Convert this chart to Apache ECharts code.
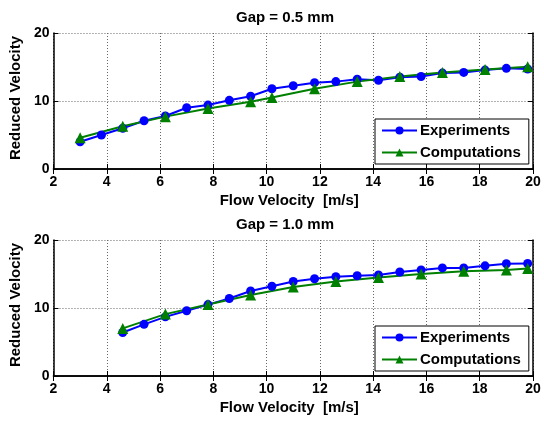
<!DOCTYPE html>
<html>
<head>
<meta charset="utf-8">
<script src="https://cdn.jsdelivr.net/npm/echarts@6/dist/echarts.min.js"></script>
<style>
    html, body { margin: 0; padding: 0; background: #fff; }
    #main { width: 544px; height: 421px; }
</style>
</head>
<body>
<div id="main"></div>
<script>
    // Gap = 0.5 mm
    const expXTop = [3.0, 3.8, 4.6, 5.4, 6.2, 7.0, 7.8, 8.6, 9.4, 10.2, 11.0, 11.8, 12.6, 13.4, 14.2, 15.0, 15.8, 16.6, 17.4, 18.2, 19.0, 19.8];
    const expYTop = [4.0, 5.0, 6.0, 7.1, 7.8, 9.0, 9.4, 10.1, 10.7, 11.8, 12.25, 12.7, 12.85, 13.2, 13.05, 13.5, 13.6, 14.1, 14.2, 14.55, 14.8, 14.7];
    const compXTop = [3.0, 4.6, 6.2, 7.8, 9.4, 10.2, 11.8, 13.4, 15.0, 16.6, 18.2, 19.8];
    const compYTop = [4.6, 6.3, 7.7, 8.9, 9.9, 10.5, 11.8, 12.85, 13.6, 14.2, 14.65, 15.05];

    // Gap = 1.0 mm
    const expXBot = [4.6, 5.4, 6.2, 7.0, 7.8, 8.6, 9.4, 10.2, 11.0, 11.8, 12.6, 13.4, 14.2, 15.0, 15.8, 16.6, 17.4, 18.2, 19.0, 19.8];
    const expYBot = [6.4, 7.6, 8.7, 9.6, 10.5, 11.4, 12.5, 13.2, 13.9, 14.3, 14.6, 14.75, 14.85, 15.3, 15.6, 15.9, 15.9, 16.2, 16.5, 16.55];
    const compXBot = [4.6, 6.2, 7.8, 9.4, 11.0, 12.6, 14.2, 15.8, 17.4, 19.0, 19.8];
    const compYBot = [7.0, 9.1, 10.5, 11.9, 13.1, 13.9, 14.5, 15.0, 15.4, 15.6, 15.8];

    const titles = ['Gap = 0.5 mm', 'Gap = 1.0 mm'];
    const xName = 'Flow Velocity  [m/s]';
    const yName = 'Reduced Velocity';
    const seriesNames = ['Experiments', 'Computations'];

    const zip = (xs, ys) => xs.map((x, i) => [x, ys[i]]);

    const font = 'Liberation Sans, Arial, sans-serif';
    const gridTops = [33, 240];
    const gridH = 136;

    const chart = echarts.init(document.getElementById('main'));

    const xAxes = [];
    const yAxes = [];
    [0, 1].forEach(g => {
        xAxes.push({
            type: 'value', gridIndex: g, min: 2, max: 20, interval: 2, position: 'bottom',
            name: xName, nameLocation: 'middle', nameGap: 24,
            nameTextStyle: { fontFamily: font, fontWeight: 'bold', fontSize: 15, color: '#000', padding: [0, 8, 0, 0] },
            axisLine: { lineStyle: { color: '#000', width: 1.5 } },
            axisTick: { inside: true, length: 5, lineStyle: { color: '#000' } },
            axisLabel: { fontFamily: font, fontWeight: 'bold', fontSize: 14, color: '#000', margin: 6, showMinLabel: true, showMaxLabel: true },
            splitLine: { show: true, lineStyle: { color: '#666', type: [1, 2], width: 1 } }
        });
        xAxes.push({
            type: 'value', gridIndex: g, min: 2, max: 20, interval: 2, position: 'top',
            axisLine: { lineStyle: { color: '#000', width: 1.5 } },
            axisTick: { inside: true, length: 5, lineStyle: { color: '#000' } },
            axisLabel: { show: false },
            splitLine: { show: false }
        });
        yAxes.push({
            type: 'value', gridIndex: g, min: 0, max: 20, interval: 10, position: 'left',
            name: yName, nameLocation: 'middle', nameGap: 26, nameRotate: 90,
            nameTextStyle: { fontFamily: font, fontWeight: 'bold', fontSize: 15, color: '#000', padding: [0, 0, 0, 6] },
            axisLine: { show: true, lineStyle: { color: '#000', width: 1.5 } },
            axisTick: { show: true, inside: true, length: 5, lineStyle: { color: '#000' } },
            axisLabel: { fontFamily: font, fontWeight: 'bold', fontSize: 14, color: '#000', margin: 4 },
            splitLine: { show: true, lineStyle: { color: '#666', type: [1, 2], width: 1 } }
        });
        yAxes.push({
            type: 'value', gridIndex: g, min: 0, max: 20, interval: 10, position: 'right',
            axisLine: { show: true, lineStyle: { color: '#000', width: 1.5 } },
            axisTick: { show: true, inside: true, length: 5, lineStyle: { color: '#000' } },
            axisLabel: { show: false },
            splitLine: { show: false }
        });
    });

    const mkSeries = (name, g, data, color, symbol, size) => ({
        name: name, type: 'line', xAxisIndex: g * 2, yAxisIndex: g * 2,
        data: data, symbol: symbol, symbolSize: size, showAllSymbol: true,
        itemStyle: { color: color }, lineStyle: { color: color, width: 2 },
        animation: false
    });

    const legendBase = {
        orient: 'vertical', left: 375, width: 150,
        data: seriesNames,
        itemWidth: 35, itemHeight: 10, itemGap: 7,
        padding: [4, 8, 4, 6],
        borderColor: '#000', borderWidth: 1, backgroundColor: '#fff',
        selectedMode: false,
        textStyle: { fontFamily: font, fontWeight: 'bold', fontSize: 15, color: '#000', padding: [0, 0, 0, -2] }
    };

    chart.setOption({
        animation: false,
        title: [
            { text: titles[0], left: 280, top: 5, textAlign: 'center',
              textStyle: { fontFamily: font, fontWeight: 'bold', fontSize: 15, color: '#000' } },
            { text: titles[1], left: 280, top: 212, textAlign: 'center',
              textStyle: { fontFamily: font, fontWeight: 'bold', fontSize: 15, color: '#000' } }
        ],
        grid: gridTops.map(t => ({ left: 50, width: 483, top: t, height: gridH, show: false })),
        xAxis: xAxes,
        yAxis: yAxes,
        legend: [
            Object.assign({}, legendBase, { top: 119 }),
            Object.assign({}, legendBase, { top: 326 })
        ],
        series: [
            mkSeries(seriesNames[0], 0, zip(expXTop, expYTop), '#0000ff', 'circle', 9),
            mkSeries(seriesNames[1], 0, zip(compXTop, compYTop), '#008000', 'triangle', 11),
            mkSeries(seriesNames[0], 1, zip(expXBot, expYBot), '#0000ff', 'circle', 9),
            mkSeries(seriesNames[1], 1, zip(compXBot, compYBot), '#008000', 'triangle', 11)
        ]
    });
</script>
</body>
</html>
